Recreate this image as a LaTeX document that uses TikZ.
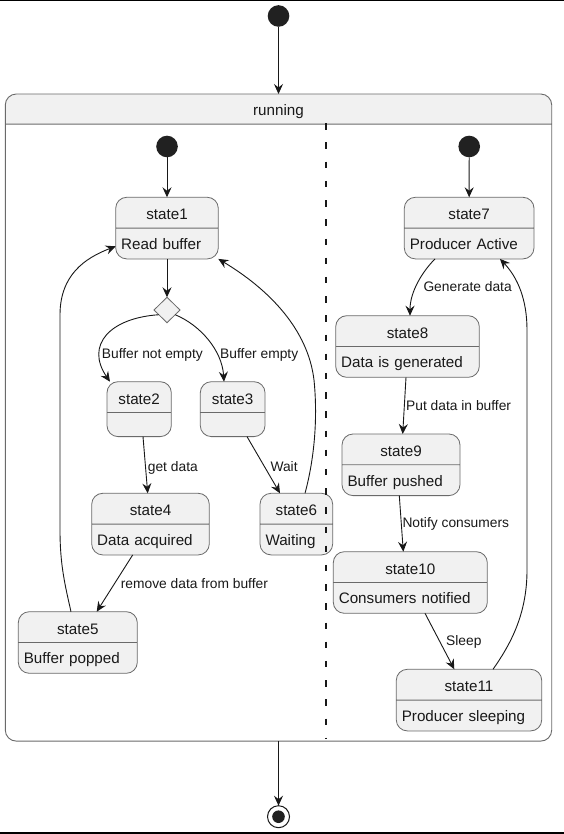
\documentclass[tikz,border=0pt]{standalone}
\usepackage{fontspec}
\setmainfont{Liberation Sans}
\usetikzlibrary{positioning,shapes,arrows.meta,backgrounds,calc}
\definecolor{stfill}{HTML}{F1F1F1}
\definecolor{stborder}{HTML}{6A6A6A}
\definecolor{stline}{HTML}{181818}
\newcommand{\stfont}{\fontsize{15.2pt}{18pt}\selectfont}
\newcommand{\lbfont}{\fontsize{13.8pt}{16pt}\selectfont}
\newcommand{\sthead}{\rule[-8pt]{0pt}{30pt}}
\newcommand{\stdesc}{\rule[-9pt]{0pt}{30pt}}
\newcommand{\stnone}{\rule[-9pt]{0pt}{23.3pt}}
\tikzstyle{state} = [rectangle split, rectangle split parts=2, draw=stborder, fill=stfill, %
   rounded corners=11pt, line width=0.8pt, inner xsep=5.5pt, inner ysep=0pt, outer sep=0pt, %
   anchor=north west, font=\stfont, text=black!90]
\tikzstyle{startdot} = [circle, fill=black!87, minimum size=21.6pt, inner sep=0pt, outer sep=0pt]
\tikzstyle{enddot} = [circle, draw=stline, line width=1pt, minimum size=22pt, inner sep=0pt, outer sep=0pt, %
   path picture={\fill[black!87] (path picture bounding box.center) circle (6.3pt);}]
\tikzstyle{choice} = [diamond, draw=stborder, fill=stfill, minimum width=26pt, minimum height=25.4pt, %
   inner sep=0pt, outer sep=0pt, line width=0.8pt]
\tikzstyle{line} = [draw=stline, line width=0.9pt, -{Stealth[length=10pt,width=9pt,inset=3.5pt]}]
\tikzstyle{edgetext} = [anchor=base west, inner sep=0pt, font=\lbfont, text=black!90]

\begin{document}
\begin{tikzpicture}[x=1pt, y=-1pt, font=\stfont]
   \useasboundingbox (0,0) rectangle (564,834);

   % Frame lines
   \draw[line width=1.4pt] (0,0.7) -- (564,0.7);
   \draw[line width=1.4pt] (0,832.8) -- (564,832.8);

% Outer state %%%%%%%%%%%%%%%%%%%%%%%%%%%%%%%%%%%%%%%%%%%%%%%%%%%%%%%%%
   \node[startdot] (init0) at (278.5,16) {};
   \node[state, fill=none, line width=0.9pt, text width=535.4pt](running) at (5.3,94){%
      \centering\rule[-8.5pt]{0pt}{29.3pt}running\par\nodepart{two}\rule{0pt}{616pt}};
   \node[enddot] (final) at (278.5,816.7) {};

   \coordinate (divtop) at (326,123.3);
   \coordinate (divbot) at (326,739.3);

   \begin{scope}[on background layer]
      \fill[white] (0,0) rectangle (564,834);
      \begin{scope}
         \clip[rounded corners=11pt] (running.north west) rectangle (running.south east);
         \fill[stfill] (running.north west) rectangle (running.one split east);
      \end{scope}
   \end{scope}

% Consumer side %%%%%%%%%%%%%%%%%%%%%%%%%%%%%%%%%%%%%%%%%%%%%%%%%%%%%%%
   \node[startdot] (init1) at (167,146.5) {};

   \node[state, text width=91.6pt](state1) at (115.7,197.3){%
      \centering\sthead state1\par\nodepart{two}\stdesc Read buffer};

   \node[choice] (choice) at (167,310) {};

   \node[state, text width=53.3pt](state2) at (107,381.7){%
      \centering\sthead state2\par\nodepart{two}\stnone};

   \node[state, text width=53.7pt](state3) at (200.3,381.7){%
      \centering\sthead state3\par\nodepart{two}\stnone};

   \node[state, text width=106.6pt](state4) at (91.7,493.3){%
      \centering\sthead state4\par\nodepart{two}\stdesc Data acquired};

   \node[state, text width=61.7pt](state6) at (260,493.3){%
      \centering\sthead state6\par\nodepart{two}\stdesc Waiting};

   \node[state, text width=108pt](state5) at (18.3,611.7){%
      \centering\sthead state5\par\nodepart{two}\stdesc Buffer popped};

% Producer side %%%%%%%%%%%%%%%%%%%%%%%%%%%%%%%%%%%%%%%%%%%%%%%%%%%%%%%
   \node[startdot] (init2) at (469.2,146.5) {};

   \node[state, text width=118.7pt](state7) at (404.3,197.3){%
      \centering\sthead state7\par\nodepart{two}\stdesc Producer Active};

   \node[state, text width=132.6pt](state8) at (335.7,315.7){%
      \centering\sthead state8\par\nodepart{two}\stdesc Data is generated};

   \node[state, text width=107pt](state9) at (342,434){%
      \centering\sthead state9\par\nodepart{two}\stdesc Buffer pushed};

   \node[state, text width=143pt](state10) at (333.3,551.7){%
      \centering\sthead state10\par\nodepart{two}\stdesc Consumers notified};

   \node[state, text width=134.4pt](state11) at (396.3,669.3){%
      \centering\sthead state11\par\nodepart{two}\stdesc Producer sleeping};

% Labels %%%%%%%%%%%%%%%%%%%%%%%%%%%%%%%%%%%%%%%%%%%%%%%%%%%%%%%%%%%%%%
   \node[edgetext] (t_notempty) at (101.7,358) {Buffer not empty};
   \node[edgetext] (t_empty) at (220,358) {Buffer empty};
   \node[edgetext] (t_get) at (147.7,471) {get data};
   \node[edgetext] (t_wait) at (270.3,471) {Wait};
   \node[edgetext] (t_remove) at (120.7,588.3) {remove data from buffer};
   \node[edgetext] (t_generate) at (423.3,291.7) {Generate data};
   \node[edgetext] (t_put) at (406,410) {Put data in buffer};
   \node[edgetext] (t_notify) at (402.3,527.7) {Notify consumers};
   \node[edgetext] (t_sleep) at (446,645) {Sleep};

   % Draw edges
   % Outer
   \path [line] (init0) -- (running.north);
   \path [line] (running.south) -- (final);
   \path [draw=stline, line width=1.5pt, dash pattern=on 6.5pt off 12.7pt] (divtop) -- (divbot);

   % Consumer side
   \path [line] (init1) -- (state1);
   \path [line] (state1) -- (choice);
   \path [line] (choice.210) .. controls (110,318) and (85,345) .. ($(state2.north west)+(3,0)$);
   \path [line] (choice.-30) .. controls (200,325) and (222,350) .. ($(state3.north west)+(23.7,0)$);
   \path [line] ($(state2.south west)+(36,0)$) -- ($(state4.north west)+(56,0)$);
   \path [line] ($(state3.south west)+(46.7,0)$) -- ($(state6.north west)+(20,0)$);
   \path [line] ($(state4.south west)+(41,0)$) -- ($(state5.north west)+(78.4,0)$);
   \path [line] ($(state5.north west)+(52.7,0)$) .. controls (65,585) and (60,565) .. (60,530)
      -- (60,315) .. controls (60,275) and (85,258) .. ($(state1.north west)+(0,49)$);
   \path [line] ($(state6.north west)+(45,0)$) .. controls (314,460) and (318,420) .. (314,380)
      .. controls (308,330) and (270,290) .. (state1.south east);

   % Producer side
   \path [line] (init2) -- (state7);
   \path [line] ($(state7.south west)+(30.7,0)$) .. controls (422,272) and (410,292) .. ($(state8.north west)+(74.3,0)$);
   \path [line] ($(state8.south west)+(70.3,0)$) -- ($(state9.north west)+(60.7,0)$);
   \path [line] ($(state9.south west)+(57.3,0)$) -- ($(state10.north west)+(70,0)$);
   \path [line] ($(state10.south west)+(91.7,0)$) -- ($(state11.north west)+(58,0)$);
   \path [line] ($(state11.north west)+(96.7,0)$) .. controls (510,645) and (527,615) .. (527,570)
      -- (527,330) .. controls (527,300) and (518,278) .. ($(state7.south west)+(95.7,0)$);

\end{tikzpicture}
\end{document}
